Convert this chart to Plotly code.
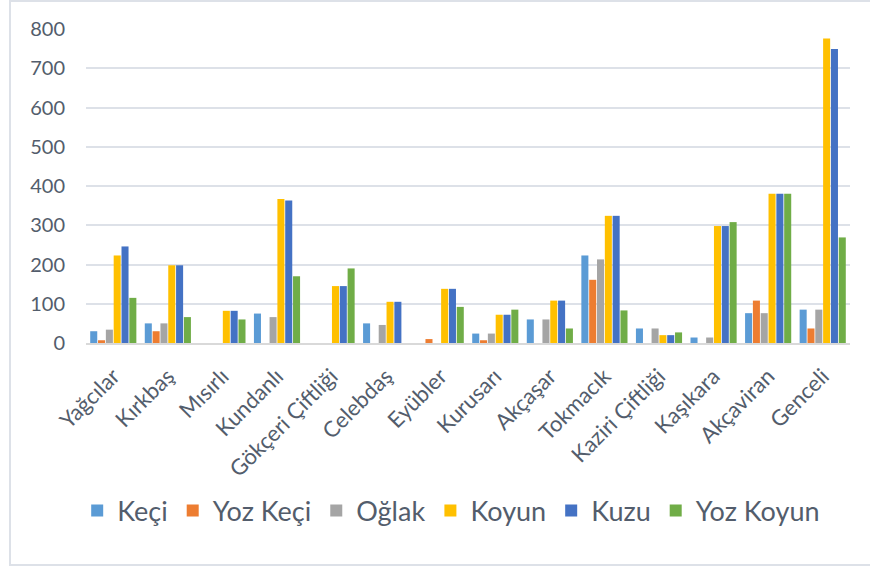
import plotly.graph_objects as go

categories = ["Yağcılar", "Kırkbaş", "Mısırlı", "Kundanlı", "Gökçeri Çiftliği", "Celebdaş",
              "Eyübler", "Kurusarı", "Akçaşar", "Tokmacık", "Kaziri Çiftliği", "Kaşıkara",
              "Akçaviran", "Genceli"]

keci      = [30, 50, 0, 75, 0, 50, 0, 24, 60, 223, 37, 14, 76, 85]
yoz_keci  = [7, 30, 0, 0, 0, 0, 10, 7, 0, 161, 0, 0, 108, 37]
oglak     = [34, 50, 0, 66, 0, 46, 0, 24, 60, 213, 37, 14, 76, 85]
koyun     = [223, 198, 82, 367, 145, 105, 138, 72, 108, 324, 20, 298, 380, 776]
kuzu      = [246, 198, 82, 363, 145, 105, 138, 72, 108, 324, 20, 298, 380, 749]
yoz_koyun = [115, 66, 60, 170, 190, 0, 92, 85, 37, 83, 27, 308, 380, 269]

y_ticks = [0, 100, 200, 300, 400, 500, 600, 700, 800]

series = [
    ("Keçi", keci, "#5B9BD5"),
    ("Yoz Keçi", yoz_keci, "#ED7D31"),
    ("Oğlak", oglak, "#A5A5A5"),
    ("Koyun", koyun, "#FFC000"),
    ("Kuzu", kuzu, "#4472C4"),
    ("Yoz Koyun", yoz_koyun, "#70AD47"),
]

fig = go.Figure()
for name, vals, col in series:
    fig.add_trace(go.Bar(name=name, x=categories, y=vals, marker=dict(color=col, line=dict(width=0))))

txt = "#535D6C"
fig.update_layout(
    width=870, height=567,
    barmode="group", bargap=0.14, bargroupgap=0.1,
    paper_bgcolor="white", plot_bgcolor="white",
    margin=dict(l=86, r=20, t=29, b=224, autoexpand=False),
    font=dict(family="Lato, Open Sans, sans-serif", color=txt),
    xaxis=dict(tickangle=-45, tickfont=dict(size=22, color=txt), showgrid=False,
               showline=True, linecolor="#D9D9D9", linewidth=1.5, ticks="", automargin=False,
               ticklabelstandoff=10),
    yaxis=dict(range=[0, 800], tickvals=y_ticks, tickfont=dict(size=20, color=txt),
               gridcolor="#DDE1E8", gridwidth=1.5, zeroline=False, ticks="", ticklabelstandoff=20,
               automargin=False),
    legend=dict(orientation="h", x=0.478, xanchor="center", y=-0.535, yanchor="middle",
                font=dict(size=27, color=txt), itemwidth=30, tracegroupgap=0),
    showlegend=True,
    shapes=[dict(type="rect", xref="paper", yref="paper", x0=-0.0995, x1=1.2, y0=-0.707, y1=1.089,
                 line=dict(color="#DDE1E8", width=2), fillcolor="rgba(0,0,0,0)", layer="below")],
)

fig.write_html("out.html", config={"displayModeBar": False},
               post_script="document.body.style.margin='0';document.body.style.padding='0';")
